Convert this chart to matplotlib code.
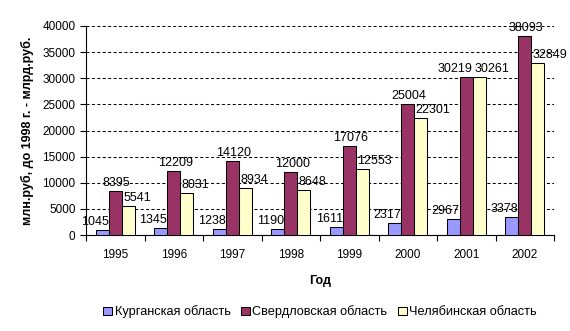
import matplotlib.pyplot as plt
import numpy as np

plt.rcParams['font.family'] = ['Liberation Sans', 'DejaVu Sans']

years = ['1995', '1996', '1997', '1998', '1999', '2000', '2001', '2002']
kurgan = [1045, 1345, 1238, 1190, 1611, 2317, 2967, 3378]
sverdl = [8395, 12209, 14120, 12000, 17076, 25004, 30219, 38093]
chelyab = [5541, 8031, 8934, 8648, 12553, 22301, 30261, 32849]
names = ['Курганская область', 'Свердловская область', 'Челябинская область']
colors = ['#9999FF', '#993366', '#FFFFCC']

fig = plt.figure(figsize=(5.7, 3.31), dpi=100)
ax = fig.add_axes([86 / 570, 1 - 235 / 331, 468 / 570, 209 / 331])

x = np.arange(len(years))
w = 1 / 4.5
series = [kurgan, sverdl, chelyab]
# label alignment like the Excel original: left bar labels to the left, right ones to the right
aligns = [['right'] * 8,
          ['center'] * 6 + ['right', 'center'],
          ['left'] * 8]
for i, (vals, name, c) in enumerate(zip(series, names, colors)):
    pos = x + (i - 1) * w
    ax.bar(pos, vals, w, color=c, edgecolor='black', linewidth=0.75, label=name, zorder=3)
    for px, v, ha in zip(pos, vals, aligns[i]):
        if ha == 'right':
            anchor, dx = px + w / 2, 0
        elif ha == 'left':
            anchor, dx = px - w / 2, 1
        else:
            anchor, dx = px, 1
        ax.annotate(str(v), (anchor, v), xytext=(dx, 3.6), textcoords='offset points',
                    ha=ha, va='baseline', fontsize=9, zorder=4)

ax.set_xlim(-0.5, len(years) - 0.5)
ax.set_ylim(0, 40000)
ax.set_yticks(np.arange(0, 40001, 5000))
ax.yaxis.grid(True, linestyle=(0, (2.9, 2.3)), color='black', linewidth=0.75)
ax.set_axisbelow(True)
ax.set_xticks(x)
ax.set_xticklabels(years)
ax.set_xticks(np.arange(-0.5, len(years)), minor=True)
ax.tick_params(axis='x', which='major', length=0, pad=10, labelsize=8.5)
ax.tick_params(axis='x', which='minor', length=4, width=0.8)
ax.tick_params(axis='y', length=4, width=0.8, labelsize=8.5)
ax.spines['top'].set_visible(False)
ax.spines['right'].set_visible(False)

ax.set_xlabel('Год', fontsize=9, fontweight='bold', labelpad=10)
ax.set_ylabel('млн.руб, до 1998 г. - млрд.руб.', fontsize=9, fontweight='bold', labelpad=6)

fig.legend(loc='center', bbox_to_anchor=(320 / 570, 1 - 312 / 331), ncol=3, frameon=False,
           fontsize=9.2, handlelength=0.7, handleheight=0.7, handletextpad=0.2, columnspacing=0.8)

fig.savefig('out.png', dpi=100)
